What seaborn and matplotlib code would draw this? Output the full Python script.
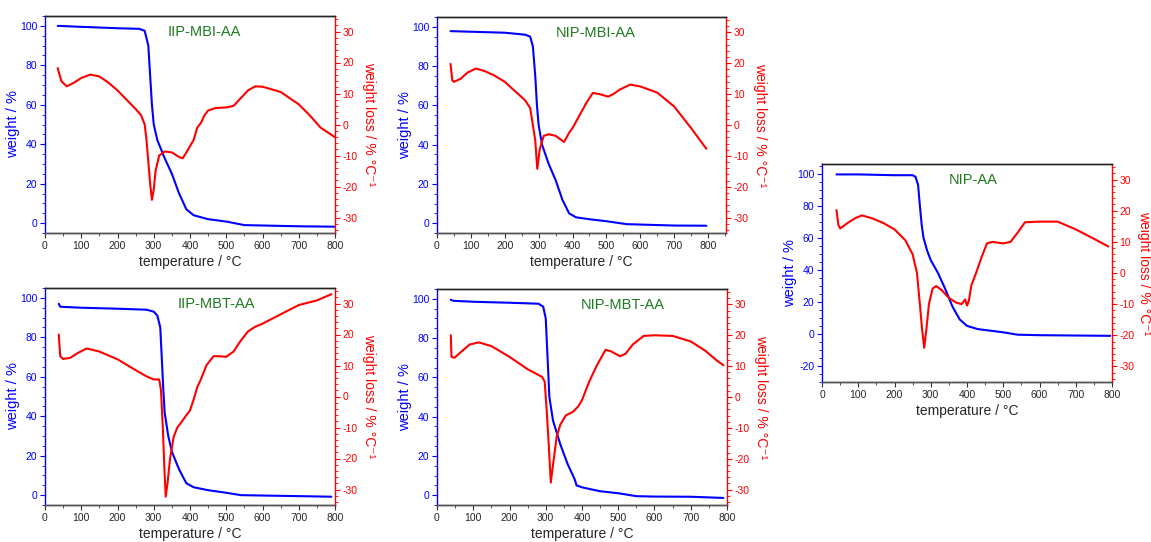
import numpy as np
import pandas as pd
import matplotlib
matplotlib.use("Agg")
import matplotlib.pyplot as plt
from matplotlib.ticker import MultipleLocator
import seaborn as sns

sns.set_style("ticks")
plt.rcParams['font.family'] = ['Liberation Sans', 'DejaVu Sans']
plt.rcParams['axes.unicode_minus'] = False

# ---- data (temperature in °C) ----
titles = ["IIP-MBI-AA", "NIP-MBI-AA", "IIP-MBT-AA", "NIP-MBT-AA", "NIP-AA"]

# IIP-MBI-AA
w1_t = [35, 100, 200, 260, 275, 285, 290, 295, 300, 310, 330, 350, 370, 390, 410, 450, 500, 550, 600, 700, 800]
w1_v = [100, 99.5, 98.8, 98.5, 97.5, 90, 75, 60, 50, 42, 33, 25, 15, 7, 4, 2, 0.8, -1, -1.2, -1.6, -1.8]
d1_t = [35, 45, 60, 80, 100, 125, 150, 175, 200, 225, 250, 265, 275, 280, 285, 290, 295, 300, 305, 315, 330,
        350, 370, 380, 390, 400, 410, 420, 430, 440, 450, 470, 500, 520, 540, 560, 580, 600, 650, 700, 730, 760, 800]
d1_v = [18.2, 14, 12.3, 13.5, 15, 16.1, 15.5, 13.5, 11, 8, 5, 3, 0, -5, -12, -19, -24.3, -21, -15, -10, -8.7,
        -9, -10.5, -10.9, -9, -7, -5, -1, 0.5, 3, 4.5, 5.3, 5.5, 6, 8.5, 11, 12.3, 12.2, 10.5, 6.5, 3, -1, -4.1]

# NIP-MBI-AA
w2_t = [40, 100, 200, 260, 275, 283, 290, 295, 300, 310, 330, 350, 370, 390, 410, 450, 500, 560, 600, 700, 795]
w2_v = [97.8, 97.5, 97, 96, 95, 90, 75, 60, 50, 40, 30, 22, 12, 5, 3, 2, 1, -0.5, -0.7, -1.2, -1.3]
d2_t = [40, 45, 50, 70, 90, 115, 140, 170, 200, 230, 260, 275, 283, 290, 296, 303, 315, 330, 350, 375,
        390, 400, 420, 440, 460, 480, 505, 520, 540, 570, 600, 650, 700, 750, 780, 795]
d2_v = [19.8, 14.5, 14, 15, 17, 18.3, 17.5, 16, 14, 11, 8, 5.5, 0, -5, -14.2, -8, -3.5, -3, -3.5, -5.5,
        -2.5, -1, 3, 7, 10.4, 10, 9.2, 10, 11.5, 13.1, 12.5, 10.5, 6, -1, -5.5, -7.7]

# IIP-MBT-AA
w3_t = [38, 42, 100, 200, 280, 300, 310, 318, 322, 326, 330, 340, 350, 370, 390, 410, 450, 500, 540, 600, 700, 790]
w3_v = [97, 95.5, 95, 94.5, 94, 93, 91, 85, 70, 55, 42, 30, 22, 13, 6, 4, 2.5, 1.2, 0, -0.2, -0.5, -0.8]
d3_t = [38, 42, 50, 70, 90, 115, 150, 200, 250, 280, 300, 315, 320, 325, 330, 333, 338, 345, 355, 365, 375,
        390, 400, 410, 420, 430, 445, 465, 480, 500, 520, 540, 560, 580, 600, 650, 700, 750, 790]
d3_v = [20, 13, 12.1, 12.5, 14, 15.5, 14.5, 12, 8.5, 6.5, 5.5, 5.5, 2, -10, -25, -32.3, -28, -20, -13, -10, -8.5,
        -6, -4.5, -1, 3, 5.5, 10, 13, 13, 12.8, 14.5, 18, 21, 22.5, 23.5, 26.5, 29.5, 31, 33]

# NIP-MBT-AA
w4_t = [38, 45, 100, 200, 280, 293, 300, 305, 310, 320, 340, 360, 380, 385, 400, 450, 500, 550, 600, 700, 790]
w4_v = [99.5, 99, 98.5, 98, 97.5, 96, 90, 70, 50, 38, 26, 16, 8, 5, 4, 2, 1, -0.5, -0.7, -0.8, -1.4]
d4_t = [38, 40, 48, 70, 90, 115, 150, 200, 250, 290, 297, 303, 308, 314, 320, 330, 340, 355, 375, 390, 400,
        420, 440, 465, 480, 505, 520, 540, 570, 600, 650, 700, 740, 770, 790]
d4_v = [20, 13, 12.7, 15, 17, 17.7, 16.5, 13, 9, 6.5, 5, -5, -15, -27.7, -22, -13, -9, -6, -4.8, -3, -1,
        5, 10, 15.3, 14.8, 13.2, 14, 17, 19.8, 20, 19.8, 18, 15, 12, 10.3]

# NIP-AA
w5_t = [40, 100, 200, 250, 258, 265, 270, 275, 280, 290, 300, 320, 340, 360, 380, 400, 430, 500, 540, 600, 700, 795]
w5_v = [99.5, 99.5, 99, 99, 98, 93, 80, 68, 60, 52, 46, 38, 28, 17, 9, 5, 3, 1, -0.5, -0.8, -1, -1.2]
d5_t = [40, 45, 50, 70, 90, 110, 140, 170, 200, 230, 250, 262, 270, 276, 282, 288, 295, 305, 315, 330, 350,
        370, 385, 395, 400, 405, 412, 425, 440, 455, 470, 500, 520, 540, 560, 600, 650, 700, 750, 790]
d5_v = [20.2, 15.5, 14.3, 16, 17.5, 18.5, 17.5, 16, 14, 10.5, 6, 0, -10, -18, -24, -18, -10, -5, -4.2, -5.5, -8,
        -9.5, -10, -8.5, -10.5, -9, -4, 0, 5, 9.5, 10, 9.5, 10, 13, 16.3, 16.5, 16.5, 14, 11, 8.5]

weights = [(w1_t, w1_v), (w2_t, w2_v), (w3_t, w3_v), (w4_t, w4_v), (w5_t, w5_v)]
derivs = [(d1_t, d1_v), (d2_t, d2_v), (d3_t, d3_v), (d4_t, d4_v), (d5_t, d5_v)]

# axes boxes in pixels: left, top, right, bottom
W, H = 1151, 542
boxes = [(45, 16, 335, 233), (437, 17, 726, 233), (45, 288, 335, 505),
         (437, 289, 727, 505), (822, 164, 1112, 382)]
xmaxes = [800, 853, 800, 800, 800]
ylims = [(-5, 105), (-5, 105), (-5, 105), (-5, 105), (-30, 106)]
title_x = [0.55, 0.55, 0.59, 0.64, 0.52]

BLUE = "#0000ff"
RED = "#ff0000"
GREEN = "#1e7b1e"

fig = plt.figure(figsize=(W / 100, H / 100), dpi=100)

for i in range(5):
    l, t, r, b = boxes[i]
    ax = fig.add_axes([l / W, 1 - b / H, (r - l) / W, (b - t) / H])
    ax2 = ax.twinx()

    wt = pd.DataFrame({"T": weights[i][0], "w": weights[i][1]})
    dt = pd.DataFrame({"T": derivs[i][0], "d": derivs[i][1]})
    sns.lineplot(data=wt, x="T", y="w", ax=ax, color=BLUE, lw=1.5, sort=False)
    sns.lineplot(data=dt, x="T", y="d", ax=ax2, color=RED, lw=1.5, sort=False)

    ax.set_xlim(0, xmaxes[i])
    ax.set_ylim(*ylims[i])
    ax2.set_ylim(-35, 35)
    ax.xaxis.set_major_locator(MultipleLocator(100))
    ax.xaxis.set_minor_locator(MultipleLocator(50))
    ax.yaxis.set_major_locator(MultipleLocator(20))
    ax.yaxis.set_minor_locator(MultipleLocator(5))
    ax2.yaxis.set_major_locator(MultipleLocator(10))
    ax2.yaxis.set_minor_locator(MultipleLocator(2))

    ax.tick_params(axis="x", which="major", length=3.5, labelsize=7.5, pad=2, color="#333333")
    ax.tick_params(axis="x", which="minor", length=2, color="#333333")
    ax.tick_params(axis="y", which="major", length=3.5, labelsize=7.5, pad=2, colors=BLUE)
    ax.tick_params(axis="y", which="minor", length=2, colors=BLUE)
    ax2.tick_params(axis="y", which="major", length=3.5, labelsize=7.5, pad=2, colors=RED)
    ax2.tick_params(axis="y", which="minor", length=2, colors=RED)

    ax.spines["left"].set_color(BLUE)
    ax2.spines["left"].set_visible(False)
    ax2.spines["right"].set_color(RED)
    ax2.spines["top"].set_color("#222222")
    ax2.spines["bottom"].set_color("#555555")
    for sp in list(ax2.spines.values()) + list(ax.spines.values()):
        sp.set_linewidth(1.0)
    ax.spines["top"].set_visible(True)
    ax.spines["right"].set_visible(False)

    ax.set_xlabel("temperature / °C", fontsize=10, labelpad=3)
    ax.set_ylabel("weight / %", fontsize=10.5, color=BLUE, labelpad=0)
    ax2.set_ylabel("weight loss / % °C⁻¹", fontsize=10, color=RED, rotation=270, va="bottom",
                   labelpad=3 if i != 4 else 1.5)

    ax.text(title_x[i], 0.925, titles[i], transform=ax.transAxes, ha="center", va="center",
            fontsize=10.5, color=GREEN)

fig.savefig("out.png", dpi=100)
